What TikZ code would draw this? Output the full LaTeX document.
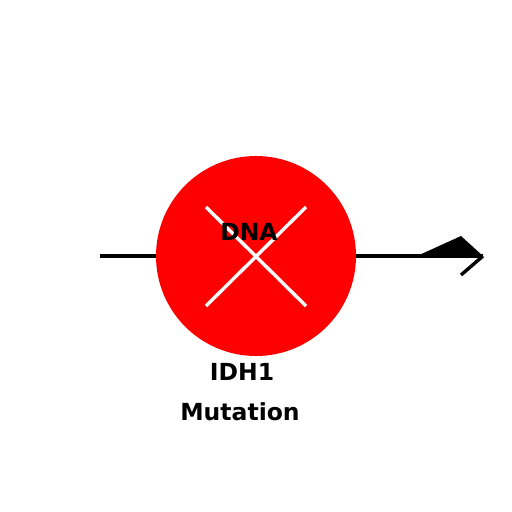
\documentclass[tikz,border=0pt]{standalone}
\usepackage{fontspec}
\setmainfont{DejaVu Sans}
\usetikzlibrary{positioning}
\tikzstyle{strand} = [line width=3.4pt, black]
\tikzstyle{cut} = [line width=3.4pt, white]
\tikzstyle{label} = [font=\fontsize{23.5}{27}\selectfont\bfseries, inner sep=0pt]

\begin{document}
\begin{tikzpicture}[x=1pt, y=-1pt]
        \useasboundingbox (0,0) rectangle (512,512);

        % DNA circle
        \node[circle, fill=red, minimum size=200pt, inner sep=0pt] (dna) at (256,256) {};

        % strand ends
        \coordinate (left) at (100,256);
        \coordinate (tip) at (483,256);
        \draw[strand] (left) -- (dna.west);
        \draw[strand] (dna.east) -- (tip);

        % arrow head
        \fill (417,256) -- (461,236) -- (tip) -- cycle;
        \draw[strand] (tip) -- (461,275);

        % cross over the circle
        \draw[cut] (206,207) -- (306,306);
        \draw[cut] (306,207) -- (206,306);

        % labels
        \node[label] (dnatext) at (249,232) {DNA};
        \node[label] (gene) at (242,372) {IDH1};
        \node[label] (mut) at (240,412) {Mutation};
\end{tikzpicture}
\end{document}
